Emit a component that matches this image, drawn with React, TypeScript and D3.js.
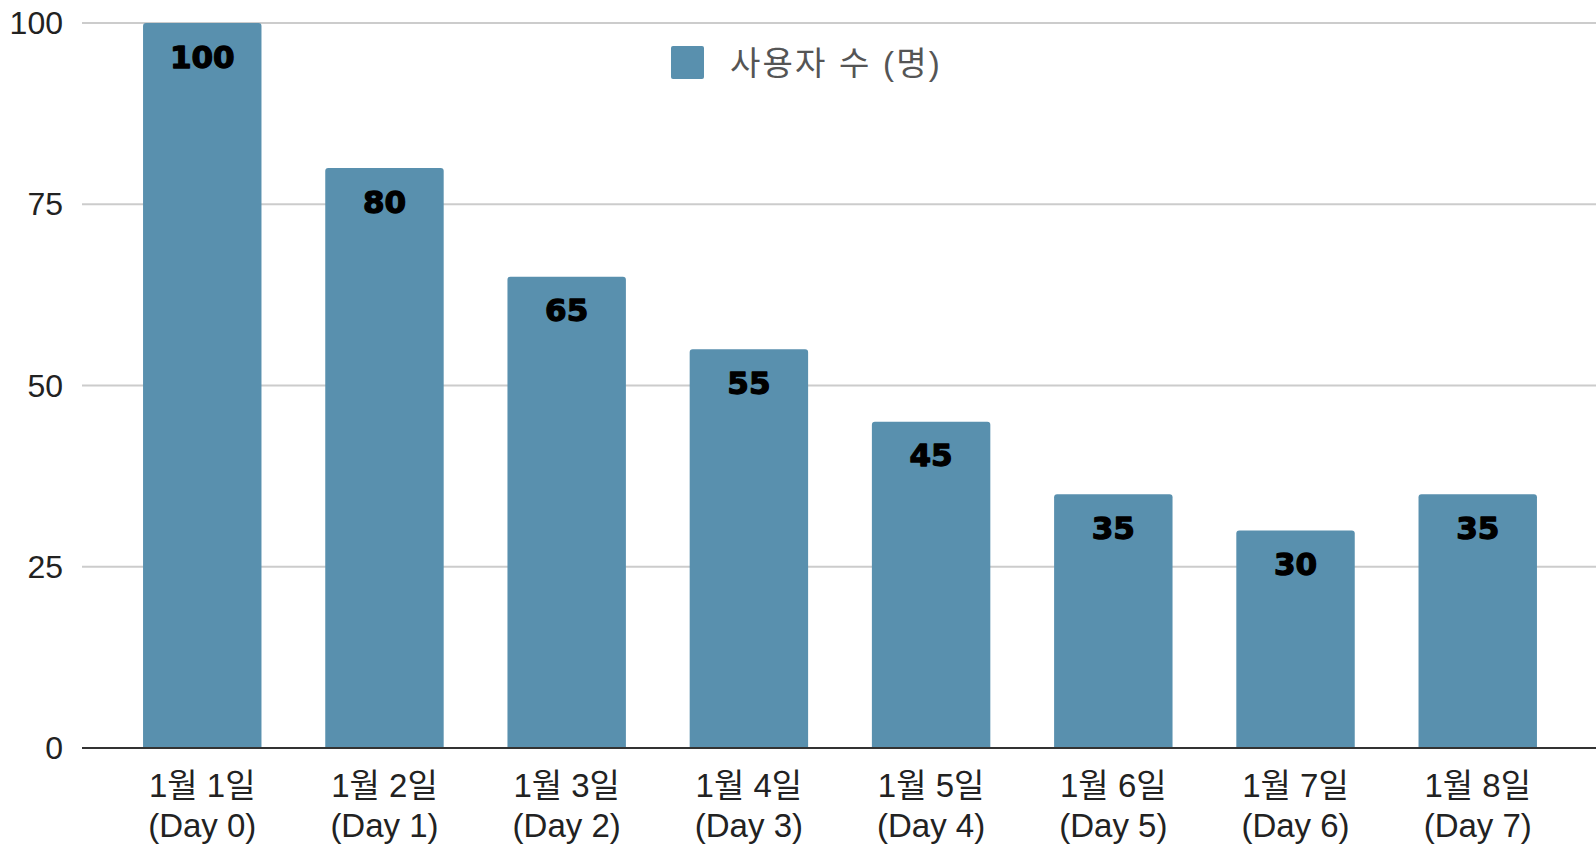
import React from "react";
import * as d3 from "d3";

const categories = ["1월 1일", "1월 2일", "1월 3일", "1월 4일", "1월 5일", "1월 6일", "1월 7일", "1월 8일"];
const dayLabels = ["(Day 0)", "(Day 1)", "(Day 2)", "(Day 3)", "(Day 4)", "(Day 5)", "(Day 6)", "(Day 7)"];
const users = [100, 80, 65, 55, 45, 35, 30, 35];
const yTicks = [0, 25, 50, 75, 100];
const seriesName = "사용자 수 (명)";

const W = 1596;
const H = 845;
const BAR = "#5990ae";
const FONT = "'Liberation Sans', Arial, 'Noto Sans CJK KR', sans-serif";

function topRoundedRect(x: number, y: number, w: number, h: number, r: number) {
  const p = d3.path();
  p.moveTo(x, y + h);
  p.lineTo(x, y + r);
  p.arcTo(x, y, x + r, y, r);
  p.lineTo(x + w - r, y);
  p.arcTo(x + w, y, x + w, y + r, r);
  p.lineTo(x + w, y + h);
  p.closePath();
  return p.toString();
}

export default function App() {
  const x = d3.scaleBand<string>().domain(categories).range([82, 1598]).paddingInner(0.35).paddingOuter(0.335);
  const y = d3.scaleLinear().domain([0, 100]).range([748, 23]);
  return (
    <div style={{ position: "fixed", left: 0, top: 0, width: W, height: H, background: "#fff" }}>
      <svg width={W} height={H} style={{ display: "block" }}>
        {yTicks.filter((t) => t !== 0).map((t) => (
          <line key={t} x1={82} x2={W} y1={y(t)} y2={y(t)} stroke="#cccccc" strokeWidth={2} />
        ))}
        {yTicks.map((t) => (
          <text key={"l" + t} x={63} y={y(t)} textAnchor="end" dominantBaseline="central" fontFamily={FONT} fontSize={32} fill="#222">
            {t}
          </text>
        ))}
        {users.map((v, i) => {
          const bx = x(categories[i])!;
          const bw = x.bandwidth();
          return (
            <g key={i}>
              <path d={topRoundedRect(bx, y(v), bw, y(0) - y(v), 3)} fill={BAR} />
              <text
                x={bx + bw / 2}
                y={y(v) + 33.5}
                textAnchor="middle"
                dominantBaseline="central"
                fontFamily="'DejaVu Sans', sans-serif"
                fontWeight="bold"
                fontSize={31}
                fill="#000"
                stroke="#000"
                strokeWidth={1.3}
                strokeLinejoin="round"
              >
                {v}
              </text>
            </g>
          );
        })}
        <line x1={82} x2={W} y1={y(0)} y2={y(0)} stroke="#333" strokeWidth={2} />
        {categories.map((c, i) => {
          const cx = x(c)! + x.bandwidth() / 2;
          return (
            <g key={"x" + i}>
              <text x={cx} y={785} textAnchor="middle" dominantBaseline="central" fontFamily={FONT} fontSize={33} fill="#222">
                {c}
              </text>
              <text x={cx} y={825} textAnchor="middle" dominantBaseline="central" fontFamily={FONT} fontSize={33} fill="#222">
                {dayLabels[i]}
              </text>
            </g>
          );
        })}
        <rect x={671} y={46} width={33} height={33} rx={2} fill={BAR} />
        <text x={730} y={63} dominantBaseline="central" fontFamily={FONT} fontSize={33} letterSpacing={2.2} fill="#555">
          {seriesName}
        </text>
      </svg>
    </div>
  );
}
